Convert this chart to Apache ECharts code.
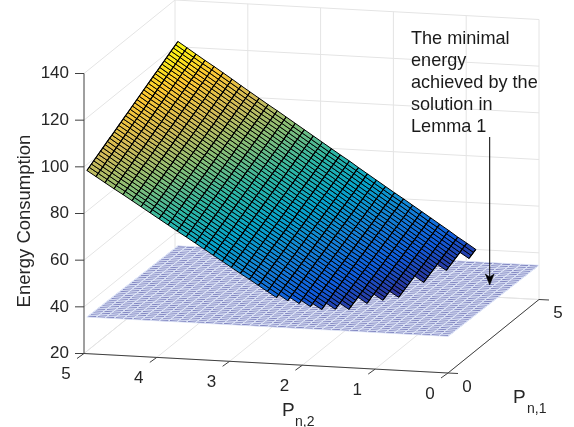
<!DOCTYPE html>
<html>
<head>
<meta charset="utf-8">
<style>html,body{margin:0;padding:0;background:#fff}#c{width:574px;height:427px}</style>
<script src="https://cdn.jsdelivr.net/npm/echarts@6/dist/echarts.min.js"></script>
</head>
<body>
<div id="c"></div>
<script>
const N = null;
const energyTicks = [20,40,60,80,100,120,140];
const p2Ticks = [5,4,3,2,1,0];
const p1Ticks = [0,5];
const p1Values = [0,0.125,0.25,0.375,0.5,0.625,0.75,0.875,1,1.125,1.25,1.375,1.5,1.625,1.75,1.875,2,2.125,2.25,2.375,2.5,2.625,2.75,2.875,3,3.125,3.25,3.375,3.5,3.625,3.75,3.875,4,4.125,4.25,4.375,4.5,4.625,4.75,4.875,5];
const p2Values = [4.96,4.836,4.712,4.588,4.464,4.34,4.216,4.092,3.968,3.844,3.72,3.596,3.472,3.348,3.224,3.1,2.976,2.852,2.728,2.604,2.48,2.356,2.232,2.108,1.984,1.86,1.736,1.612,1.488,1.364,1.24,1.116,0.992,0.868,0.744,0.62,0.496,0.372,0.248,0.124,0];
const planeEnergy = [35.7,35.7,35.6,35.6,35.6,35.6,35.5,35.5,35.5,35.5,35.4,35.4,35.4,35.4,35.3,35.3,35.3,35.3,35.2,35.2,35.2,35.2,35.1,35.1,35.1,35.1,35,35,35,35,34.9,34.9,34.9,34.9,34.8,34.8,34.8,34.8,34.7,34.7,34.7];
const surfaceEnergy = [
[98.5,99.1,99.7,100.3,100.9,101.5,102.1,102.7,103.3,103.9,104.5,105.0,105.6,106.2,106.8,107.4,108.0,108.6,109.2,109.8,110.4,111.0,111.6,112.2,112.8,113.4,114.0,114.6,115.2,115.8,116.4,116.9,117.5,118.1,118.7,119.3,119.9,120.5,121.1,121.7,122.3],
[96.1,96.7,97.3,97.9,98.5,99.1,99.7,100.2,100.8,101.4,102.0,102.6,103.2,103.8,104.4,105.0,105.6,106.2,106.8,107.3,107.9,108.5,109.1,109.7,110.3,110.9,111.5,112.1,112.7,113.3,113.9,114.5,115.0,115.6,116.2,116.8,117.4,118.0,118.6,119.2,119.8],
[93.7,94.3,94.9,95.5,96.1,96.7,97.2,97.8,98.4,99.0,99.6,100.2,100.8,101.4,102.0,102.6,103.1,103.7,104.3,104.9,105.5,106.1,106.7,107.3,107.9,108.5,109.0,109.6,110.2,110.8,111.4,112.0,112.6,113.2,113.8,114.4,114.9,115.5,116.1,116.7,117.3],
[91.3,91.9,92.5,93.1,93.6,94.2,94.8,95.4,96.0,96.6,97.2,97.8,98.3,98.9,99.5,100.1,100.7,101.3,101.9,102.5,103.0,103.6,104.2,104.8,105.4,106.0,106.6,107.2,107.7,108.3,108.9,109.5,110.1,110.7,111.3,111.8,112.4,113.0,113.6,114.2,114.8],
[89.0,89.6,90.2,90.8,91.3,91.9,92.5,93.1,93.7,94.3,94.8,95.4,96.0,96.6,97.2,97.8,98.3,98.9,99.5,100.1,100.7,101.3,101.8,102.4,103.0,103.6,104.2,104.8,105.4,105.9,106.5,107.1,107.7,108.3,108.9,109.4,110.0,110.6,111.2,111.8,112.4],
[86.6,87.2,87.8,88.3,88.9,89.5,90.1,90.7,91.3,91.8,92.4,93.0,93.6,94.2,94.7,95.3,95.9,96.5,97.1,97.7,98.2,98.8,99.4,100.0,100.6,101.2,101.7,102.3,102.9,103.5,104.1,104.6,105.2,105.8,106.4,107.0,107.6,108.1,108.7,109.3,109.9],
[84.2,84.8,85.4,85.9,86.5,87.1,87.7,88.3,88.8,89.4,90.0,90.6,91.1,91.7,92.3,92.9,93.5,94.0,94.6,95.2,95.8,96.4,96.9,97.5,98.1,98.7,99.3,99.8,100.4,101.0,101.6,102.1,102.7,103.3,103.9,104.5,105.0,105.6,106.2,106.8,107.4],
[81.8,82.4,83.0,83.5,84.1,84.7,85.3,85.8,86.4,87.0,87.6,88.1,88.7,89.3,89.9,90.4,91.0,91.6,92.2,92.7,93.3,93.9,94.5,95.0,95.6,96.2,96.8,97.4,97.9,98.5,99.1,99.7,100.2,100.8,101.4,102.0,102.5,103.1,103.7,104.3,104.8],
[79.4,80.0,80.5,81.1,81.7,82.3,82.8,83.4,84.0,84.6,85.1,85.7,86.3,86.9,87.4,88.0,88.6,89.1,89.7,90.3,90.9,91.4,92.0,92.6,93.2,93.7,94.3,94.9,95.4,96.0,96.6,97.2,97.7,98.3,98.9,99.5,100.0,100.6,101.2,101.7,102.3],
[77.0,77.6,78.1,78.7,79.3,79.9,80.4,81.0,81.6,82.1,82.7,83.3,83.9,84.4,85.0,85.6,86.1,86.7,87.3,87.8,88.4,89.0,89.6,90.1,90.7,91.3,91.8,92.4,93.0,93.6,94.1,94.7,95.3,95.8,96.4,97.0,97.6,98.1,98.7,99.3,99.8],
[74.6,75.2,75.7,76.3,76.9,77.4,78.0,78.6,79.1,79.7,80.3,80.8,81.4,82.0,82.6,83.1,83.7,84.3,84.8,85.4,86.0,86.5,87.1,87.7,88.2,88.8,89.4,89.9,90.5,91.1,91.6,92.2,92.8,93.3,93.9,94.5,95.0,95.6,96.2,96.8,97.3],
[72.3,72.9,73.4,74.0,74.6,75.1,75.7,76.3,76.8,77.4,78.0,78.5,79.1,79.6,80.2,80.8,81.3,81.9,82.5,83.0,83.6,84.2,84.7,85.3,85.9,86.4,87.0,87.6,88.1,88.7,89.3,89.8,90.4,90.9,91.5,92.1,92.6,93.2,93.8,94.3,94.9],
[69.9,70.5,71.0,71.6,72.2,72.7,73.3,73.8,74.4,75.0,75.5,76.1,76.7,77.2,77.8,78.3,78.9,79.5,80.0,80.6,81.2,81.7,82.3,82.8,83.4,84.0,84.5,85.1,85.7,86.2,86.8,87.4,87.9,88.5,89.0,89.6,90.2,90.7,91.3,91.9,92.4],
[67.5,68.1,68.6,69.2,69.7,70.3,70.9,71.4,72.0,72.5,73.1,73.7,74.2,74.8,75.3,75.9,76.5,77.0,77.6,78.1,78.7,79.3,79.8,80.4,80.9,81.5,82.1,82.6,83.2,83.7,84.3,84.9,85.4,86.0,86.5,87.1,87.7,88.2,88.8,89.3,89.9],
[65.1,65.7,66.2,66.8,67.3,67.9,68.4,69.0,69.6,70.1,70.7,71.2,71.8,72.3,72.9,73.5,74.0,74.6,75.1,75.7,76.2,76.8,77.4,77.9,78.5,79.0,79.6,80.1,80.7,81.3,81.8,82.4,82.9,83.5,84.0,84.6,85.2,85.7,86.3,86.8,87.4],
[62.7,63.3,63.8,64.4,64.9,65.5,66.0,66.6,67.1,67.7,68.3,68.8,69.4,69.9,70.5,71.0,71.6,72.1,72.7,73.2,73.8,74.4,74.9,75.5,76.0,76.6,77.1,77.7,78.2,78.8,79.4,79.9,80.5,81.0,81.6,82.1,82.7,83.2,83.8,84.3,84.9],
[60.3,60.9,61.4,62.0,62.5,63.1,63.6,64.2,64.7,65.3,65.8,66.4,66.9,67.5,68.0,68.6,69.1,69.7,70.2,70.8,71.3,71.9,72.4,73.0,73.5,74.1,74.7,75.2,75.8,76.3,76.9,77.4,78.0,78.5,79.1,79.6,80.2,80.7,81.3,81.8,82.4],
[57.9,58.4,59.0,59.5,60.1,60.6,61.2,61.7,62.3,62.8,63.4,63.9,64.5,65.0,65.6,66.1,66.7,67.2,67.8,68.3,68.9,69.4,70.0,70.5,71.1,71.6,72.2,72.7,73.3,73.8,74.4,74.9,75.5,76.0,76.6,77.1,77.7,78.2,78.8,79.3,79.9],
[55.6,56.1,56.7,57.2,57.8,58.3,58.9,59.4,60.0,60.5,61.1,61.6,62.2,62.7,63.2,63.8,64.3,64.9,65.4,66.0,66.5,67.1,67.6,68.2,68.7,69.3,69.8,70.3,70.9,71.4,72.0,72.5,73.1,73.6,74.2,74.7,75.3,75.8,76.4,76.9,77.4],
[53.2,53.7,54.3,54.8,55.4,55.9,56.5,57.0,57.6,58.1,58.6,59.2,59.7,60.3,60.8,61.4,61.9,62.4,63.0,63.5,64.1,64.6,65.2,65.7,66.3,66.8,67.3,67.9,68.4,69.0,69.5,70.1,70.6,71.2,71.7,72.2,72.8,73.3,73.9,74.4,75.0],
[50.8,51.3,51.9,52.4,53.0,53.5,54.0,54.6,55.1,55.7,56.2,56.8,57.3,57.8,58.4,58.9,59.5,60.0,60.5,61.1,61.6,62.2,62.7,63.2,63.8,64.3,64.9,65.4,65.9,66.5,67.0,67.6,68.1,68.7,69.2,69.7,70.3,70.8,71.4,71.9,72.4],
[48.4,48.9,49.5,50.0,50.6,51.1,51.6,52.2,52.7,53.2,53.8,54.3,54.9,55.4,55.9,56.5,57.0,57.5,58.1,58.6,59.2,59.7,60.2,60.8,61.3,61.9,62.4,62.9,63.5,64.0,64.5,65.1,65.6,66.2,66.7,67.2,67.8,68.3,68.8,69.4,69.9],
[N,46.5,47.1,47.6,48.1,48.7,49.2,49.8,50.3,50.8,51.4,51.9,52.4,53.0,53.5,54.0,54.6,55.1,55.6,56.2,56.7,57.3,57.8,58.3,58.9,59.4,59.9,60.5,61.0,61.5,62.1,62.6,63.2,63.7,64.2,64.8,65.3,65.8,66.4,66.9,67.4],
[N,N,44.7,45.2,45.7,46.3,46.8,47.3,47.9,48.4,48.9,49.5,50.0,50.5,51.1,51.6,52.1,52.7,53.2,53.7,54.3,54.8,55.3,55.9,56.4,56.9,57.5,58.0,58.5,59.1,59.6,60.1,60.7,61.2,61.7,62.3,62.8,63.3,63.9,64.4,64.9],
[N,N,N,42.8,43.3,43.9,44.4,44.9,45.4,46.0,46.5,47.0,47.6,48.1,48.6,49.2,49.7,50.2,50.7,51.3,51.8,52.3,52.9,53.4,53.9,54.5,55.0,55.5,56.0,56.6,57.1,57.6,58.2,58.7,59.2,59.8,60.3,60.8,61.3,61.9,62.4],
[N,N,N,N,41.0,41.5,42.1,42.6,43.1,43.7,44.2,44.7,45.2,45.8,46.3,46.8,47.3,47.9,48.4,48.9,49.5,50.0,50.5,51.0,51.6,52.1,52.6,53.2,53.7,54.2,54.7,55.3,55.8,56.3,56.9,57.4,57.9,58.4,59.0,59.5,60.0],
[N,N,N,N,N,N,39.7,40.2,40.7,41.2,41.8,42.3,42.8,43.3,43.9,44.4,44.9,45.4,46.0,46.5,47.0,47.5,48.1,48.6,49.1,49.6,50.2,50.7,51.2,51.7,52.3,52.8,53.3,53.8,54.4,54.9,55.4,55.9,56.5,57.0,57.5],
[N,N,N,N,N,N,N,N,38.3,38.8,39.3,39.8,40.4,40.9,41.4,41.9,42.5,43.0,43.5,44.0,44.5,45.1,45.6,46.1,46.6,47.2,47.7,48.2,48.7,49.2,49.8,50.3,50.8,51.3,51.8,52.4,52.9,53.4,53.9,54.5,55.0],
[N,N,N,N,N,N,N,N,N,N,N,N,37.9,38.4,39.0,39.5,40.0,40.5,41.0,41.6,42.1,42.6,43.1,43.6,44.2,44.7,45.2,45.7,46.2,46.8,47.3,47.8,48.3,48.8,49.3,49.9,50.4,50.9,51.4,51.9,52.5],
[N,N,N,N,N,N,N,N,N,N,N,N,N,N,N,37.1,37.6,38.1,38.6,39.1,39.6,40.2,40.7,41.2,41.7,42.2,42.7,43.3,43.8,44.3,44.8,45.3,45.8,46.4,46.9,47.4,47.9,48.4,48.9,49.5,50.0],
[N,N,N,N,N,N,N,N,N,N,N,N,N,N,N,N,N,N,36.2,36.7,37.2,37.7,38.2,38.7,39.2,39.8,40.3,40.8,41.3,41.8,42.3,42.8,43.3,43.9,44.4,44.9,45.4,45.9,46.4,46.9,47.5],
[N,N,N,N,N,N,N,N,N,N,N,N,N,N,N,N,N,N,N,N,N,N,N,N,N,37.3,37.8,38.3,38.8,39.3,39.8,40.3,40.9,41.4,41.9,42.4,42.9,43.4,43.9,44.4,44.9],
[N,N,N,N,N,N,N,N,N,N,N,N,N,N,N,N,N,N,N,N,N,N,N,N,N,N,N,N,N,N,N,37.9,38.4,38.9,39.4,39.9,40.4,40.9,41.5,42.0,42.5],
[N,N,N,N,N,N,N,N,N,N,N,N,N,N,N,N,N,N,N,N,N,N,N,N,N,N,N,N,N,N,N,N,N,N,N,N,N,38.5,39.0,39.5,40.0]
];
const parula = ['#352a87','#0f5cdd','#1481d6','#06a4ca','#2eb7a4','#87bf77','#d1bb59','#fec832','#f9fb0e'];
const colorRange = [35, 122.3];
const annotationLines = ['The minimal','energy','achieved by the','solution in','Lemma 1'];

// oblique view of the 3-D box onto the page plane
const VIEW = {ox:84, oy:353.5, p2x:72.8, p2y:3.9, p1x:18.2, p1y:-14.7, zy:-2.3333};
function project(p2, p1, z) {
  const u = 5 - p2;
  return [VIEW.ox + u * VIEW.p2x + p1 * VIEW.p1x,
          VIEW.oy + u * VIEW.p2y + p1 * VIEW.p1y + (z - 20) * VIEW.zy];
}
const FONT = '"Liberation Sans", Arial, Helvetica, sans-serif';
const INK = '#262626';

const gridSegs = [], axisSegs = [], tickMarks = [], tickLabels = [];
p2Ticks.forEach(p => {
  gridSegs.push([p,0,20, p,5,20]);
  gridSegs.push([p,5,20, p,5,140]);
  tickMarks.push([p,0,20,-7,5]);
  tickLabels.push([p,0,20,-18,21,String(p),'center']);
});
p1Ticks.forEach(p => {
  gridSegs.push([5,p,20, 0,p,20]);
  tickMarks.push([0,p,20,10,0.5]);
  tickLabels.push([0,p,20,19,14,String(p),'center']);
});
energyTicks.forEach(z => {
  gridSegs.push([5,0,z, 5,5,z]);
  gridSegs.push([5,5,z, 0,5,z]);
  tickMarks.push([5,0,z,-9,0]);
  tickLabels.push([5,0,z,-15,0,String(z),'right']);
});
axisSegs.push([5,0,20, 0,0,20],[0,0,20, 0,5,20],[5,0,20, 5,0,140]);

const planeCells = [], planeRows = [], surfaceCells = [], surfaceRows = [];
for (let r = 0; r < p2Values.length - 1; r++) {
  for (let c = 0; c < p1Values.length - 1; c++) {
    planeCells.push([r, c]);
  }
}
p2Values.forEach((p, r) => planeRows.push(r));
for (let r = 0; r < surfaceEnergy.length - 1; r++) {
  for (let c = 0; c < p1Values.length - 1; c++) {
    if (surfaceEnergy[r][c] !== N && surfaceEnergy[r][c+1] !== N && surfaceEnergy[r+1][c] !== N && surfaceEnergy[r+1][c+1] !== N) {
      surfaceCells.push([r, c]);
    }
  }
}
surfaceEnergy.forEach((row, r) => surfaceRows.push(r));
function segSeries(data, stroke, width) {
  return {
    type:'custom', coordinateSystem:'cartesian2d', silent:true, animation:false, clip:false, data,
    renderItem(params, api) {
      const d = data[params.dataIndex];
      const a = api.coord(project(d[0],d[1],d[2]));
      const b = api.coord(project(d[3],d[4],d[5]));
      return {type:'line', shape:{x1:a[0],y1:a[1],x2:b[0],y2:b[1]}, style:{stroke, lineWidth:width}};
    }
  };
}
const option = {
  animation:false,
  grid:{left:0,right:0,top:0,bottom:0},
  xAxis:{type:'value',min:0,max:574,show:false},
  yAxis:{type:'value',min:0,max:427,inverse:true,show:false},
  series:[
    segSeries(gridSegs,'#e4e4e4',1),
    {
      type:'custom', coordinateSystem:'cartesian2d', silent:true, animation:false, clip:false, progressive:0, data:planeCells,
      renderItem(params, api) {
        const [r,c] = planeCells[params.dataIndex];
        const pts = [[r,c],[r,c+1],[r+1,c+1],[r+1,c]].map(q => api.coord(project(p2Values[q[0]],p1Values[q[1]],planeEnergy[q[1]])));
        return {type:'polygon', shape:{points:pts}, style:{fill:'#7f84c0', stroke:'#dfe6f8', lineWidth:0.8}};
      }
    },
    {
      type:'custom', coordinateSystem:'cartesian2d', silent:true, animation:false, clip:false, data:planeRows,
      renderItem(params, api) {
        const r = params.dataIndex;
        const pts = p1Values.map((p, c) => api.coord(project(p2Values[r],p,planeEnergy[c])));
        return {type:'polyline', shape:{points:pts}, style:{stroke:'#dfe6f8', lineWidth:1, fill:'none'}};
      }
    },
    {
      type:'custom', coordinateSystem:'cartesian2d', silent:true, animation:false, clip:false, progressive:0, data:surfaceCells,
      renderItem(params, api) {
        const [r,c] = surfaceCells[params.dataIndex];
        const q = [[r,c],[r,c+1],[r+1,c+1],[r+1,c]];
        let sum = 0;
        const pts = q.map(k => { const z = surfaceEnergy[k[0]][k[1]]; sum += z; return api.coord(project(p2Values[k[0]],p1Values[k[1]],z)); });
        const t = Math.min(1, Math.max(0, (sum/4 - colorRange[0]) / (colorRange[1] - colorRange[0])));
        return {type:'polygon', shape:{points:pts}, style:{fill:echarts.color.lerp(t, parula), stroke:'#000', lineWidth:1}};
      }
    },
    {
      type:'custom', coordinateSystem:'cartesian2d', silent:true, animation:false, clip:false, data:surfaceRows,
      renderItem(params, api) {
        const r = params.dataIndex, pts = [];
        surfaceEnergy[r].forEach((z, c) => { if (z !== N) pts.push(api.coord(project(p2Values[r],p1Values[c],z))); });
        return {type:'polyline', shape:{points:pts}, style:{stroke:'#000', lineWidth:1.1, fill:'none'}};
      }
    },
    segSeries(axisSegs,'#404040',1),
    {
      type:'custom', coordinateSystem:'cartesian2d', silent:true, animation:false, clip:false, data:tickMarks,
      renderItem(params, api) {
        const d = tickMarks[params.dataIndex];
        const a = project(d[0],d[1],d[2]);
        const p = api.coord(a), e = api.coord([a[0]+d[3],a[1]+d[4]]);
        return {type:'line', shape:{x1:p[0],y1:p[1],x2:e[0],y2:e[1]}, style:{stroke:'#404040', lineWidth:1}};
      }
    },
    {
      type:'custom', coordinateSystem:'cartesian2d', silent:true, animation:false, clip:false, data:tickLabels,
      renderItem(params, api) {
        const d = tickLabels[params.dataIndex];
        const a = project(d[0],d[1],d[2]);
        const p = api.coord([a[0]+d[3],a[1]+d[4]]);
        return {type:'text', x:p[0], y:p[1], style:{text:d[5], fill:INK, font:'17px '+FONT, textAlign:d[6], textVerticalAlign:'middle'}};
      }
    }
  ],
  graphic:[
    {type:'text', z:100, x:25, y:221, rotation:Math.PI/2, style:{text:'Energy Consumption', fill:INK, font:'18.5px '+FONT, textAlign:'center', textVerticalAlign:'middle'}},
    {type:'text', z:100, x:282, y:420, style:{text:'P', fill:INK, font:'19px '+FONT, textAlign:'left', textVerticalAlign:'bottom'}},
    {type:'text', z:100, x:295, y:429, style:{text:'n,2', fill:INK, font:'14px '+FONT, textAlign:'left', textVerticalAlign:'bottom'}},
    {type:'text', z:100, x:513, y:407, style:{text:'P', fill:INK, font:'19px '+FONT, textAlign:'left', textVerticalAlign:'bottom'}},
    {type:'text', z:100, x:527, y:416, style:{text:'n,1', fill:INK, font:'14px '+FONT, textAlign:'left', textVerticalAlign:'bottom'}},
    ...annotationLines.map((t,i) => ({type:'text', z:100, x:411, y:39+i*22.1, style:{text:t, fill:'#1a1a1a', font:'18.1px '+FONT, textAlign:'left', textVerticalAlign:'middle'}})),
    {type:'line', z:100, shape:{x1:489.7,y1:137,x2:489.7,y2:280}, style:{stroke:'#000', lineWidth:1}},
    {type:'polygon', z:100, shape:{points:[[489.7,285],[485.3,274],[489.7,277],[494.1,274]]}, style:{fill:'#000', stroke:'#000', lineWidth:0.5}}
  ]
};
const chart = echarts.init(document.getElementById('c'), null, {renderer:'canvas'});
chart.setOption(option);
</script>
</body>
</html>
